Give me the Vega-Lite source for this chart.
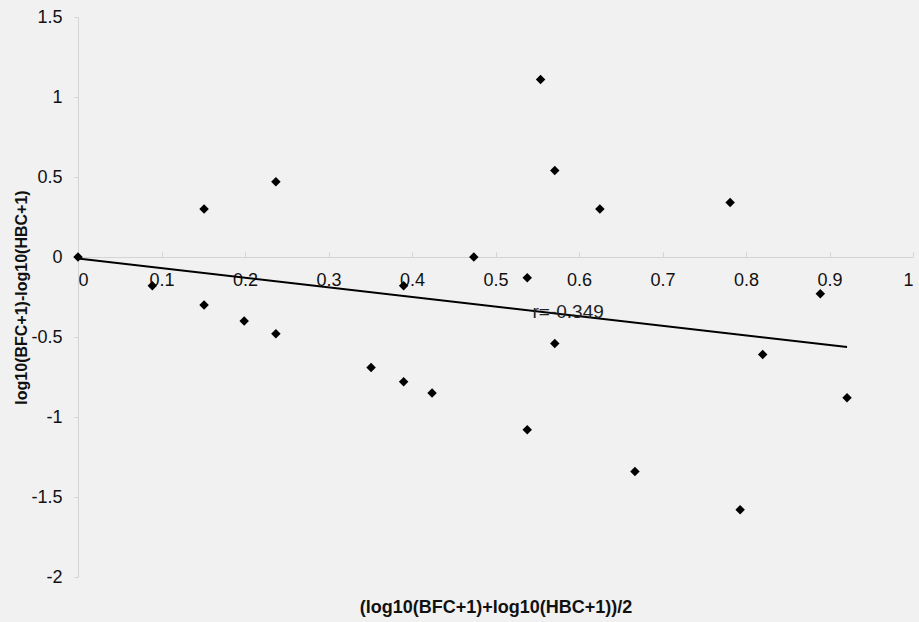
{
  "$schema": "https://vega.github.io/schema/vega-lite/v6.json",
  "width": 835,
  "height": 560,
  "autosize": {"type": "none"},
  "padding": {"left": 78, "top": 17, "right": 6, "bottom": 45},
  "background": "#f1f1f1",
  "config": {
    "view": {"stroke": null},
    "font": "Liberation Sans",
    "axis": {"grid": false, "domainColor": "#d4d4d4", "tickColor": "#d4d4d4", "labelColor": "#111", "labelFontSize": 18, "titleFontSize": 16, "titleFontWeight": "bold", "titleColor": "#111"}
  },
  "datasets": {
    "pts": [
      {"x": 0.0, "y": 0.0},
      {"x": 0.089, "y": -0.18},
      {"x": 0.151, "y": 0.30},
      {"x": 0.151, "y": -0.30},
      {"x": 0.199, "y": -0.40},
      {"x": 0.237, "y": 0.47},
      {"x": 0.237, "y": -0.48},
      {"x": 0.351, "y": -0.69},
      {"x": 0.390, "y": -0.18},
      {"x": 0.390, "y": -0.78},
      {"x": 0.424, "y": -0.85},
      {"x": 0.474, "y": 0.0},
      {"x": 0.538, "y": -0.13},
      {"x": 0.554, "y": 1.11},
      {"x": 0.571, "y": 0.54},
      {"x": 0.571, "y": -0.54},
      {"x": 0.538, "y": -1.08},
      {"x": 0.625, "y": 0.30},
      {"x": 0.667, "y": -1.34},
      {"x": 0.781, "y": 0.34},
      {"x": 0.793, "y": -1.58},
      {"x": 0.820, "y": -0.61},
      {"x": 0.889, "y": -0.23},
      {"x": 0.921, "y": -0.88}
    ],
    "fit": [
      {"x": 0.0, "y": -0.01},
      {"x": 0.921, "y": -0.5625}
    ],
    "label": [
      {"x": 0.587, "y": -0.344, "text": "r=-0.349"}
    ]
  },
  "layer": [
    {
      "data": {"name": "fit"},
      "mark": {"type": "line", "color": "#000", "strokeWidth": 2},
      "encoding": {
        "x": {"field": "x", "type": "quantitative", "scale": {"domain": [0, 1], "nice": false},
          "axis": {"title": "(log10(BFC+1)+log10(HBC+1))/2", "titleFontSize": 18, "offset": -320, "values": [0,0.1,0.2,0.3,0.4,0.5,0.6,0.7,0.8,0.9,1], "format": "~g", "tickSize": -5, "labelPadding": 19, "titlePadding": 309}},
        "y": {"field": "y", "type": "quantitative", "scale": {"domain": [-2, 1.5], "nice": false},
          "axis": {"title": "log10(BFC+1)-log10(HBC+1)", "values": [-2,-1.5,-1,-0.5,0,0.5,1,1.5], "labelExpr": "replace(format(datum.value, '~g'), '\u2212', '-')", "tickSize": 4, "labelPadding": 12, "titlePadding": 1}}
      }
    },
    {
      "data": {"name": "pts"},
      "mark": {"type": "point", "shape": "diamond", "filled": true, "color": "#000", "size": 90, "opacity": 1},
      "encoding": {
        "x": {"field": "x", "type": "quantitative"},
        "y": {"field": "y", "type": "quantitative"}
      }
    },
    {
      "data": {"name": "label"},
      "mark": {"type": "text", "fontSize": 19, "color": "#222", "align": "center", "baseline": "middle"},
      "encoding": {
        "x": {"field": "x", "type": "quantitative"},
        "y": {"field": "y", "type": "quantitative"},
        "text": {"field": "text"}
      }
    }
  ]
}
